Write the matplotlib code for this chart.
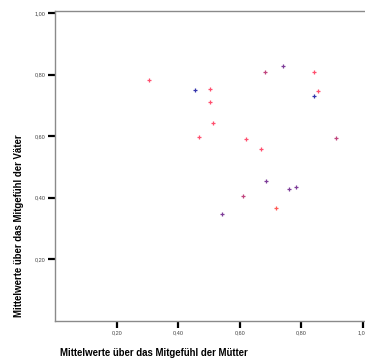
import matplotlib as mpl
import matplotlib.pyplot as plt
from matplotlib.ticker import FuncFormatter

mpl.rcParams['font.family'] = ['Liberation Sans', 'DejaVu Sans']

# Mittelwerte (Mütter, Väter) und Farbgruppe je Punkt
mutter = [0.306, 0.456, 0.504, 0.502, 0.514, 0.469, 0.620, 0.670, 0.681, 0.741,
          0.843, 0.856, 0.842, 0.914, 0.686, 0.612, 0.760, 0.782, 0.717, 0.541]
vater = [0.783, 0.749, 0.754, 0.712, 0.644, 0.598, 0.592, 0.559, 0.809, 0.829,
         0.809, 0.748, 0.732, 0.595, 0.454, 0.407, 0.428, 0.436, 0.367, 0.348]
gruppe = ['r', 'b', 'r', 'r', 'r', 'r', 'r', 'r', 'm', 'p',
          'r', 'r', 'b', 'm', 'p', 'm', 'p', 'p', 'o', 'p']
farben = {'r': '#ff4f6e', 'b': '#3434ac', 'm': '#c0457e', 'p': '#7e3c98', 'o': '#ff5a55'}

ticks = [0.2, 0.4, 0.6, 0.8, 1.0]

fig = plt.figure(figsize=(3.65, 3.63), dpi=100)
ax = fig.add_axes([0.1512, 0.116, 0.849, 0.855])

for x, y, g in zip(mutter, vater, gruppe):
    ax.plot(x, y, marker='+', color=farben[g], markersize=3.5, mew=0.9, ls='none')

ax.set_xlim(0, 1.0075)
ax.set_ylim(0, 1.008)
ax.set_xticks(ticks)
ax.set_yticks(ticks)
fmt = FuncFormatter(lambda v, p: ('%.2f' % v).replace('.', ','))
ax.xaxis.set_major_formatter(fmt)
ax.yaxis.set_major_formatter(fmt)
ax.tick_params(direction='out', length=5, width=1.6, color='black',
               labelsize=4, labelcolor='#444444', pad=2)

for s in ['left', 'bottom', 'top']:
    ax.spines[s].set_color('#8a8a8a')
    ax.spines[s].set_linewidth(1.0)
ax.spines['right'].set_visible(False)

fig.text(60 / 365, 1 - 356 / 363, 'Mittelwerte über das Mitgefühl der Mütter',
         fontsize=6.9, fontweight='bold', ha='left', va='baseline')
fig.text(19 / 365, 1 - 317 / 363, 'Mittelwerte über das Mitgefühl der Väter',
         fontsize=6.9, fontweight='bold', rotation=90, ha='center', va='bottom')

fig.savefig('out.png', dpi=100)
